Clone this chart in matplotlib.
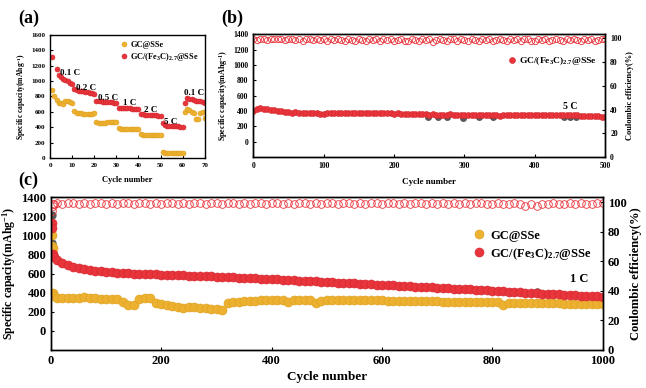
import numpy as np
import matplotlib.pyplot as plt

plt.rcParams['font.family'] = ['Liberation Serif', 'DejaVu Serif']
plt.rcParams['font.weight'] = 'bold'
plt.rcParams['axes.labelweight'] = 'bold'
plt.rcParams['mathtext.fontset'] = 'custom'
plt.rcParams['mathtext.rm'] = 'Liberation Serif:bold'
plt.rcParams['mathtext.it'] = 'Liberation Serif:bold'
plt.rcParams['mathtext.bf'] = 'Liberation Serif:bold'

# colours
red = '#E8343B'
red_edge = '#D1262E'
orange = '#EDB131'
orange_edge = '#DE9F1C'
gray = '#5A5A5A'

label_gc = 'GC@SSe'
label_fe = r'GC/(Fe$_3$C)$_{2.7}$@SSe'

# ---- (a) rate performance ----
a_cycles = list(range(1, 71))
a_fe = [1310, np.nan, 1160, 1085, 1055, 1030, 1010, 995, 980, 965,
        890, 880, 875, 870, 865, 860, 855, 850, 840, 830,
        745, 740, 735, 733, 730, 728, 725, 722, 720, 715,
        655, 650, 648, 646, 645, 644, 642, 640, 640, 638,
        575, 565, 560, 558, 556, 555, 553, 552, 550, 550,
        460, 425, 420, 418, 415, 413, 412, 410, 408, 405,
        720, 780, 770, 760, 750, 745, 740, 735, 730, 720]
a_gc = [880, 800, 750, 720, 710, 705, 735, 735, 725, 712,
        605, 585, 580, 578, 577, 576, 576, 575, 575, 578,
        470, 455, 455, 458, 460, 462, 463, 465, 466, 468,
        392, 382, 380, 380, 379, 379, 378, 378, 378, 378,
        310, 298, 296, 295, 295, 294, 294, 293, 293, 292,
        82, 70, 68, 67, 67, 66, 66, 65, 65, 65,
        600, 640, 620, 600, 590, 510, 505, 580, 600, 525]
a_rates = ['0.1 C', '0.2 C', '0.5 C', '1 C', '2 C', '5 C', '0.1 C']
a_rate_x = [9.1, 16.2, 26.4, 36, 45.5, 54.7, 65.1]
a_rate_y = [1100, 915, 778, 713, 617, 471, 843]

# ---- (b) 5 C cycling, every 5 cycles ----
b_cycles = list(range(0, 501, 5))
b_fe = [405, 420, 440, 430, 425, 415, 410, 400, 395, 390, 385,
        380, 385, 378, 375, 372, 370, 372, 368, 366, 362,
        368, 372, 370, 368, 370, 372, 370, 375, 372, 375,
        378, 372, 370, 368, 372, 370, 374, 370, 368, 366,
        368, 366, 364, 362, 366, 362, 360, 358, 356, 354,
        356, 352, 350, 354, 352, 356, 350, 348, 346, 344,
        348, 350, 346, 344, 342, 346, 348, 344, 342, 340,
        344, 346, 348, 350, 352, 348, 346, 350, 348, 346,
        350, 352, 348, 346, 344, 342, 344, 350, 346, 344,
        346, 342, 340, 338, 336, 334, 332, 330, 328, 326]
b_ce = [99.5, 98.8, 99.2, 99.6, 98.5, 99.0, 99.4, 98.9, 99.7, 98.6,
        99.1, 99.5, 98.7, 99.3, 97.8, 99.0, 99.6, 98.4, 99.2, 98.1,
        99.4, 97.9, 99.0, 98.6, 99.5, 98.2, 97.6, 99.1, 98.8, 97.9,
        99.3, 98.5, 97.4, 99.0, 98.1, 99.4, 97.7, 98.9, 98.3, 99.2,
        97.5, 98.8, 99.5, 98.0, 97.3, 99.1, 98.6, 97.9, 99.4, 98.2,
        99.0, 97.2, 98.7, 99.3, 98.4, 97.6, 99.0, 98.9, 97.8, 99.5,
        98.3, 97.4, 99.2, 98.6, 97.9, 99.4, 98.1, 99.0, 97.6, 98.8,
        99.3, 98.5, 97.7, 99.1, 98.2, 99.5, 97.8, 98.9, 99.2, 98.0,
        97.5, 99.3, 98.6, 99.0, 97.9, 98.4, 99.4, 98.1, 97.6, 99.2,
        98.7, 99.5, 98.3, 97.8, 99.0, 98.6, 99.3, 97.9, 98.8, 99.4, 99.1]
b_dark_cycles = [248, 262, 275, 298, 320, 340, 442, 450, 458]
b_dark = [320, 325, 322, 310, 318, 325, 320, 318, 322]

# ---- (c) 1 C cycling, first cycles + every 10 cycles ----
c_first_cycles = [1, 2, 3, 4, 5]
c_fe_first = [1130, 1080, 800, 780, 770]
c_gc_first = [1000, 890, 870, 400, 360]
c_ce_first = [86, 94, 97.5, 98.5, 99]
c_cycles = list(range(10, 1001, 10))
c_fe = [745, 715, 690, 670, 655, 645, 635, 628, 622, 616,
        612, 608, 604, 601, 598, 596, 594, 592, 590, 588,
        586, 584, 582, 580, 578, 576, 574, 572, 570, 568,
        566, 564, 561, 558, 556, 553, 550, 547, 544, 541,
        538, 535, 532, 529, 526, 523, 520, 517, 514, 511,
        508, 505, 502, 499, 496, 493, 490, 487, 484, 481,
        478, 475, 472, 469, 466, 463, 460, 457, 454, 451,
        448, 445, 442, 439, 436, 433, 430, 427, 424, 421,
        418, 415, 412, 409, 406, 400, 397, 394, 391, 388,
        385, 382, 379, 376, 373, 370, 367, 364, 361, 358]
c_gc = [345, 340, 342, 345, 348, 350, 348, 342, 338, 335,
        335, 338, 300, 270, 275, 330, 345, 345, 290, 280,
        270, 260, 248, 240, 245, 245, 240, 235, 230, 225,
        222, 290, 300, 305, 310, 312, 315, 318, 320, 322,
        325, 328, 300, 325, 322, 320, 318, 295, 315, 318,
        318, 318, 320, 320, 318, 318, 320, 318, 320, 318,
        316, 315, 314, 313, 312, 311, 310, 310, 309, 308,
        307, 306, 305, 304, 303, 302, 301, 300, 300, 299,
        298, 275, 296, 295, 294, 293, 292, 291, 290, 289,
        288, 287, 286, 285, 284, 283, 282, 281, 280, 279]
c_ce = [99.2, 99.0, 99.3, 99.1, 98.9, 99.2, 99.0, 99.3, 99.1, 99.0,
        99.2, 98.9, 99.1, 99.3, 99.0, 99.2, 99.1, 98.9, 99.2, 99.0,
        99.1, 99.3, 99.0, 99.2, 98.9, 99.1, 99.2, 99.0, 99.3, 99.1,
        99.0, 99.2, 99.1, 98.9, 99.2, 99.0, 99.3, 99.1, 99.0, 99.2,
        99.1, 98.9, 99.2, 99.0, 99.1, 99.3, 99.0, 99.2, 98.9, 99.1,
        99.2, 99.0, 99.1, 99.3, 98.9, 99.2, 99.0, 99.1, 99.2, 99.0,
        99.1, 99.2, 98.9, 99.1, 99.0, 99.3, 99.1, 99.0, 99.2, 98.9,
        99.1, 99.0, 99.2, 98.9, 99.1, 99.0, 99.2, 99.1, 98.9, 99.0,
        99.1, 98.8, 99.0, 99.2, 98.6, 97.6, 98.9, 97.4, 99.0, 98.7,
        99.1, 98.9, 99.0, 99.2, 98.8, 99.1, 99.0, 98.9, 99.1, 99.3]
c_dark_cycles = [1, 2, 880]
c_dark = [1210, 920, 410]

fig = plt.figure(figsize=(6.46, 3.88), dpi=100)


def style_axis(ax, size):
    ax.tick_params(direction='in', labelsize=size, width=0.8, length=2.5)
    for lab in ax.get_xticklabels() + ax.get_yticklabels():
        lab.set_fontweight('bold')
    for sp in ax.spines.values():
        sp.set_linewidth(1.0)


# (a)
ax_a = fig.add_axes([0.0774, 0.593, 0.2396, 0.317])
ax_a.plot(a_cycles, a_gc, 'o', ms=3.6, color=orange, mec=orange_edge, mew=0.4, label=label_gc)
ax_a.plot(a_cycles, a_fe, 'o', ms=3.6, color=red, mec=red_edge, mew=0.4, label=label_fe)
for t, x, y in zip(a_rates, a_rate_x, a_rate_y):
    ax_a.text(x, y, t, fontsize=6.5, fontweight='bold', ha='center', va='center')
ax_a.set_xlim(0, 70)
ax_a.set_ylim(0, 1600)
ax_a.set_xticks(range(0, 71, 10))
ax_a.set_yticks(range(0, 1601, 200))
ax_a.set_xlabel('Cycle number', fontsize=6, labelpad=6)
ax_a.set_ylabel('Specific capacity(mAhg$^{-1}$)', fontsize=5.5, labelpad=2)
ax_a.legend(loc='upper right', fontsize=6, frameon=False, handletextpad=0.2,
            borderaxespad=0.3, labelspacing=0.25, handlelength=1.0)
style_axis(ax_a, 5)
fig.text(0.028, 0.952, '(a)', fontsize=13, fontweight='bold', va='center')

# (b)
ax_b = fig.add_axes([0.392, 0.595, 0.545, 0.317])
ax_b.plot(b_dark_cycles, b_dark, 'o', ms=4, color=gray, mec=gray)
ax_b.plot(b_cycles, b_fe, 'o', ms=4.3, color=red, mec=red_edge, mew=0.4, label=label_fe)
ax_b.text(450, 460, '5 C', fontsize=7, fontweight='bold', ha='center', va='center')
ax_b.set_xlim(0, 500)
ax_b.set_ylim(-200, 1400)
ax_b.set_xticks(range(0, 501, 100))
ax_b.set_yticks(range(0, 1401, 200))
ax_b.set_xlabel('Cycle number', fontsize=6.5, labelpad=6)
ax_b.set_ylabel('Specific capacity(mAhg$^{-1}$)', fontsize=5.8, labelpad=2)
ax_b.legend(loc='upper right', bbox_to_anchor=(1.0, 0.9), fontsize=6.8, frameon=False,
            handletextpad=0.3, handlelength=1.0)
style_axis(ax_b, 5.5)
ax_b2 = ax_b.twinx()
ax_b2.plot(b_cycles, b_ce, 'o', ms=4.5, mfc='none', mec=red, mew=0.6)
ax_b2.set_ylim(0, 103.4)
ax_b2.set_yticks(range(0, 101, 20))
ax_b2.set_ylabel('Coulombic efficiency(%)', fontsize=6, labelpad=3)
style_axis(ax_b2, 5.5)
fig.text(0.343, 0.952, '(b)', fontsize=13, fontweight='bold', va='center')

# (c)
ax_c = fig.add_axes([0.079, 0.098, 0.854, 0.394])
ax_c.plot(c_dark_cycles, c_dark, 'o', ms=5, color=gray, mec=gray)
ax_c.plot(c_first_cycles + c_cycles, c_gc_first + c_gc, 'o', ms=6.5, color=orange,
          mec=orange_edge, mew=0.4, label=label_gc)
ax_c.plot(c_first_cycles + c_cycles, c_fe_first + c_fe, 'o', ms=6.5, color=red,
          mec=red_edge, mew=0.4, label=label_fe)
ax_c.text(957, 547, '1 C', fontsize=9, fontweight='bold', ha='center', va='center')
ax_c.set_xlim(0, 1000)
ax_c.set_ylim(-200, 1400)
ax_c.set_xticks(range(0, 1001, 200))
ax_c.set_yticks(range(0, 1401, 200))
ax_c.set_xlabel('Cycle number', fontsize=9.5, labelpad=3)
ax_c.set_ylabel('Specific capacity(mAhg$^{-1}$)', fontsize=8.5, labelpad=2)
ax_c.legend(loc='upper right', bbox_to_anchor=(1.0, 0.86), fontsize=9, frameon=False,
            handletextpad=0.4, handlelength=1.0, labelspacing=0.3)
style_axis(ax_c, 9)
ax_c2 = ax_c.twinx()
ax_c2.plot(c_first_cycles + c_cycles, c_ce_first + c_ce, 'o', ms=5.5, mfc='none', mec=red, mew=0.6)
ax_c2.set_ylim(0, 103.4)
ax_c2.set_yticks(range(0, 101, 20))
ax_c2.set_ylabel('Coulombic efficiency(%)', fontsize=9, labelpad=3)
style_axis(ax_c2, 9)
fig.text(0.028, 0.536, '(c)', fontsize=13, fontweight='bold', va='center')

fig.savefig('out.png', dpi=100)
